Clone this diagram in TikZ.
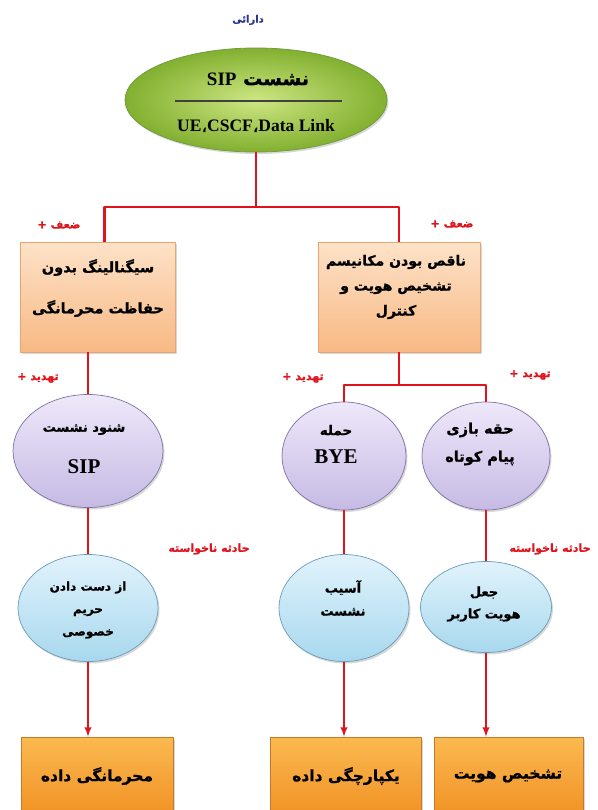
\documentclass[tikz,border=0pt]{standalone}
\usepackage{fontspec}
\setmainfont{Liberation Serif}
\newfontfamily\fa[Script=Arabic,FakeBold=1]{DejaVu Sans}
\TeXXeTstate=1
\usetikzlibrary{shapes.geometric,shadows}
\newcommand{\fatxt}[1]{{\fa\bfseries\beginR #1\endR}}
\definecolor{linkred}{RGB}{225,20,30}
\definecolor{darblue}{RGB}{40,55,140}
\definecolor{egglight}{RGB}{205,230,130}
\definecolor{eggdark}{RGB}{130,176,48}
\definecolor{eggedge}{RGB}{115,155,65}
\definecolor{peachtop}{RGB}{253,226,200}
\definecolor{peachbot}{RGB}{248,185,132}
\definecolor{peachedge}{RGB}{230,165,115}
\definecolor{violtop}{RGB}{238,232,250}
\definecolor{violbot}{RGB}{198,186,228}
\definecolor{violedge}{RGB}{125,115,165}
\definecolor{skytop}{RGB}{225,243,252}
\definecolor{skybot}{RGB}{168,216,238}
\definecolor{skyedge}{RGB}{105,155,185}
\definecolor{ambtop}{RGB}{250,185,80}
\definecolor{ambbot}{RGB}{240,140,30}
\definecolor{ambedge}{RGB}{200,120,40}
\begin{document}
\begin{tikzpicture}[x=1pt,y=-1pt,>=latex,line join=round,
  redline/.style={draw=linkred,line width=2.2pt},
  redlbl/.style={text=linkred,font=\fontsize{11}{13}\selectfont},
  shadowed/.style={drop shadow={shadow xshift=1.5pt,shadow yshift=-2pt,opacity=0.3}},
  greenegg/.style={ellipse,draw=eggedge,line width=0.8pt,inner color=egglight,outer color=eggdark,shadowed},
  peachbox/.style={rectangle,draw=peachedge,line width=0.6pt,top color=peachtop,bottom color=peachbot,shadowed},
  violetball/.style={ellipse,draw=violedge,line width=0.7pt,top color=violtop,bottom color=violbot,shadowed},
  skyball/.style={ellipse,draw=skyedge,line width=0.7pt,top color=skytop,bottom color=skybot,shadowed},
  amberbox/.style={rectangle,draw=ambedge,line width=0.6pt,top color=ambtop,bottom color=ambbot,shadowed},
  intext/.style={align=center,font=\fontsize{14}{25}\selectfont}]
\fill[white] (0,0) rectangle (597,810);
\useasboundingbox (0,0) rectangle (597,810);

% asset
\node (dar) at (248,20) [text=darblue,font=\fontsize{10}{12}\selectfont] {\fatxt{دارائی}};
\node[greenegg,minimum width=262pt,minimum height=104pt] (sess) at (256,100) {};
\node (sessT) at (258,79) [font=\fontsize{19}{22}\selectfont] {\fatxt{نشست \beginL{\rmfamily\bfseries SIP}\endL}};
\draw[line width=1.1pt,black!75] (175,101) -- (342,101);
\node (sessL) at (256,126) [font=\bfseries\fontsize{17.5}{20}\selectfont] {UE{\fa\mdseries ،}CSCF{\fa\mdseries ،}Data Link};

% weaknesses
\node[peachbox,minimum width=155pt,minimum height=110pt] (weakL) at (97.5,297) {};
\node[intext,font=\fontsize{14.5}{41}\selectfont] (weakLT) at (98,288) {\fatxt{سیگنالینگ بدون}\\\fatxt{حفاظت محرمانگی}};
\node[peachbox,minimum width=162pt,minimum height=110pt] (weakR) at (399,297) {};
\node[intext] (weakRT) at (396,287) {\fatxt{ناقص بودن مکانیسم}\\\fatxt{تشخیص هویت و}\\\fatxt{کنترل}};

% threats
\node[violetball,minimum width=150pt,minimum height=113pt] (thrL) at (88,451) {};
\node[intext,font=\fontsize{13}{42}\selectfont] (thrLT) at (84,449) {\fatxt{شنود نشست}\\{\rmfamily\bfseries\fontsize{21}{24}\selectfont SIP}};
\node[violetball,minimum width=124pt,minimum height=108pt] (thrM) at (344,456) {};
\node[intext,font=\fontsize{13.5}{28}\selectfont] (thrMT) at (336,444) {\fatxt{حمله}\\{\rmfamily\bfseries\fontsize{21}{24}\selectfont BYE}};
\node[violetball,minimum width=128pt,minimum height=108pt] (thrR) at (486,456) {};
\node[intext,font=\fontsize{14.5}{28}\selectfont] (thrRT) at (480,444) {\fatxt{حقه بازی}\\\fatxt{پیام کوتاه}};

% unwanted incidents
\node[skyball,minimum width=140pt,minimum height=107pt] (incL) at (88,608) {};
\node[intext,font=\fontsize{12}{22.5}\selectfont] (incLT) at (88,610) {\fatxt{از دست دادن}\\\fatxt{حریم}\\\fatxt{خصوصی}};
\node[skyball,minimum width=130pt,minimum height=107pt] (incM) at (344,608) {};
\node[intext,font=\fontsize{13}{23}\selectfont] (incMT) at (343,598) {\fatxt{آسیب}\\\fatxt{نشست}};
\node[skyball,minimum width=131pt,minimum height=91pt] (incR) at (486,607) {};
\node[intext,font=\fontsize{13}{22}\selectfont] (incRT) at (484,604) {\fatxt{جعل}\\\fatxt{هویت کاربر}};

% security goals
\node[amberbox,minimum width=152pt,minimum height=90pt] (goalL) at (97,782) {};
\node (goalLT) at (97,776) [font=\fontsize{15.5}{18}\selectfont] {\fatxt{محرمانگی داده}};
\node[amberbox,minimum width=151pt,minimum height=90pt] (goalM) at (345.5,782) {};
\node (goalMT) at (346,776) [font=\fontsize{15.5}{18}\selectfont] {\fatxt{یکپارچگی داده}};
\node[amberbox,minimum width=149pt,minimum height=90pt] (goalR) at (508.5,782) {};
\node (goalRT) at (508,776) [font=\fontsize{15.5}{18}\selectfont] {\fatxt{تشخیص هویت}};

% links
\coordinate (j1) at (sess.south |- 0,207);
\draw[redline] (sess.south) -- (j1) -| ([xshift=7pt]weakL.north);
\draw[redline] (j1) -| (weakR.north);
\draw[redline] (weakL.south -| thrL.north) -- (thrL.north);
\draw[redline] (thrL.south) -- (incL.north);
\draw[redline,->] (incL.south) -- (incL.south |- goalL.north);
\coordinate (j2) at (weakR.south |- 0,385);
\draw[redline] (weakR.south) -- (j2);
\draw[redline] (thrM.north) |- (j2) -| (thrR.north);
\draw[redline] (thrM.south) -- (incM.north);
\draw[redline] (thrR.south) -- (incR.north);
\draw[redline,->] (incM.south) -- (incM.south |- goalM.north);
\draw[redline,->] (incR.south) -- (incR.south |- goalR.north);

% labels
\foreach \n/\x/\y/\t in {wkL/59/225/ضعف +, wkR/452/224/ضعف +, thL/38/378/تهدید +, thM/303/378/تهدید +, thR/530/375/تهدید +, acL/209/549/حادثه ناخواسته, acR/550/549/حادثه ناخواسته}
  \node[redlbl] (\n) at (\x,\y) {\fatxt{\t}};
\end{tikzpicture}
\end{document}
